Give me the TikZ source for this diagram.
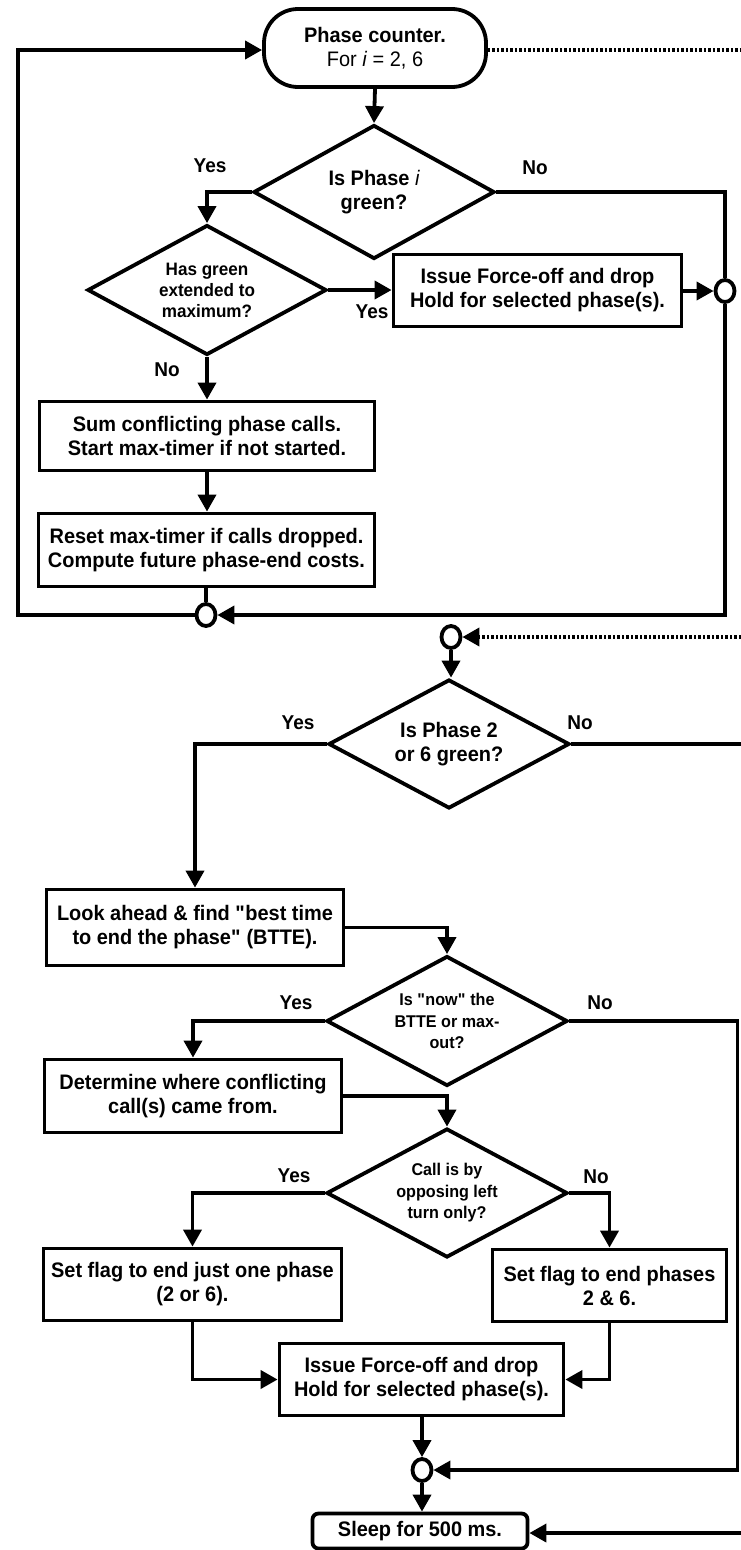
\documentclass[tikz,border=0pt]{standalone}
\usepackage{fontspec}
\setmainfont{Liberation Sans}[FakeStretch=0.95]
\usetikzlibrary{shapes.geometric,arrows.meta}
\begin{document}
\begin{tikzpicture}[x=1pt,y=-1pt,
  line width=3.8pt,
  every node/.style={font=\bfseries\fontsize{21}{24}\selectfont, align=center, inner sep=0pt},
  box/.style={draw, rectangle, line width=3.8pt},
  dec/.style={draw, diamond, aspect=1.85, minimum width=241pt, minimum height=130pt, line width=3.8pt},
  smalltext/.style={font=\bfseries\fontsize{18}{21}\selectfont},
  tinytext/.style={font=\bfseries\fontsize{17}{21.5}\selectfont},
  junction/.style={draw, ellipse, minimum width=19pt, minimum height=22pt, line width=3.8pt, fill=white},
  arr/.style={-{Triangle[length=17pt,width=18pt]}},
  dots/.style={dash pattern=on 2.5pt off 2pt},
  lbl/.style={font=\bfseries\fontsize{20}{22}\selectfont}]
\useasboundingbox (0,0) rectangle (741,1550);

% nodes
\node[box, rounded corners=34pt, minimum width=222pt, minimum height=78pt] (term) at (375,48)
  {Phase counter.\\ {\mdseries For \textit{i} = 2, 6}};
\node[dec, minimum height=134pt] (d1) at (374,192) {Is Phase {\mdseries\itshape i}\\green?};
\node[dec, minimum width=239pt, smalltext] (d2) at (207,290) {Has green\\extended to\\maximum?};
\node[box, minimum width=288pt, minimum height=72pt] (bf1) at (537.5,290.5)
  {Issue Force-off and drop\\Hold for selected phase(s).};
\node[junction] (c1) at (725,291) {};
\node[box, minimum width=335pt, minimum height=69pt] (b1) at (207,436)
  {Sum conflicting phase calls.\\Start max-timer if not started.};
\node[box, minimum width=336pt, minimum height=73pt] (b2) at (206.5,550)
  {Reset max-timer if calls dropped.\\Compute future phase-end costs.};
\node[junction] (c2) at (206,615) {};
\node[junction] (c3) at (451,637) {};
\node[dec, minimum height=129pt] (d3) at (449,744) {Is Phase 2\\or 6 green?};
\node[box, minimum width=297pt, minimum height=76pt] (b3) at (195,927.5)
  {Look ahead \& find \textquotedbl best time\\to end the phase\textquotedbl{} (BTTE).};
\node[dec, tinytext] (d4) at (447,1021) {Is \textquotedbl now\textquotedbl{} the\\BTTE or max-\\out?};
\node[box, minimum width=297pt, minimum height=73pt] (b4) at (193,1096)
  {Determine where conflicting\\call(s) came from.};
\node[dec, tinytext, minimum height=129pt] (d5) at (447,1193) {Call is by\\opposing left\\turn only?};
\node[box, minimum width=298pt, minimum height=72pt] (b5) at (192.5,1284.5)
  {Set flag to end just one phase\\(2 or 6).};
\node[box, minimum width=234pt, minimum height=72pt] (b6) at (609.5,1285.5)
  {Set flag to end phases\\2 \& 6.};
\node[box, minimum width=284pt, minimum height=72pt] (b7) at (421.5,1379.5)
  {Issue Force-off and drop\\Hold for selected phase(s).};
\node[junction] (c4) at (422,1470) {};
\node[box, rounded corners=6pt, minimum width=215pt, minimum height=35pt] (sleep) at (420,1531)
  {Sleep for 500 ms.};

% free ends
\coordinate (eTop) at (741,50);
\coordinate (eMid) at (741,637);
\coordinate (eD3) at (741,744);
\coordinate (eSleep) at (741,1533);

% labels
\node[lbl] (y1) at (210,166) {Yes};
\node[lbl] (n1) at (535,168) {No};
\node[lbl] (y2) at (372,312) {Yes};
\node[lbl] (n2) at (167,370) {No};
\node[lbl] (y3) at (298,723) {Yes};
\node[lbl] (n3) at (580,723) {No};
\node[lbl] (y4) at (296,1003) {Yes};
\node[lbl] (n4) at (600,1003) {No};
\node[lbl] (y5) at (294,1176) {Yes};
\node[lbl] (n5) at (596,1177) {No};

% connectors
\draw[arr] (c2.west) -- (18,615) -- (18,50) -- (term.west |- 0,50);
\draw[dots] (term.east |- 0,50) -- (eTop);
\draw[arr] (term.south) -- (d1.north);
\draw[arr] (d1.west) -| (d2.north);
\draw (d1.east) -| (c1.north);
\draw[arr] (c1.south) |- (c2.east);
\draw[arr] (d2.east) -- (bf1.west |- d2.east);
\draw[arr] (bf1.east |- c1.west) -- (c1.west);
\draw[arr] (d2.south) -- (b1.north -| d2.south);
\draw[arr] (b1.south) -- (b2.north -| b1.south);
\draw (b2.south -| c2.north) -- (c2.north);
\draw[arr, dots] (eMid) -- (c3.east);
\draw[arr] (c3.south) -- (d3.north -| c3.south);
\draw[arr] (d3.west) -| (b3.north);
\draw (d3.east) -- (eD3);
\draw[arr] (b3.east) -| (d4.north);
\draw[arr] (d4.west) -| (b4.north);
\draw[arr] (d4.east) -- (737.5,1021) |- (c4.east);
\draw[arr] (b4.east) -| (d5.north);
\draw[arr] (d5.west) -| (b5.north);
\draw[arr] (d5.east) -| (b6.north);
\draw[arr] (b5.south) |- (b7.west);
\draw[arr] (b6.south) |- (b7.east);
\draw[arr] (b7.south -| c4.north) -- (c4.north);
\draw[arr] (c4.south) -- (sleep.north -| c4.south);
\draw[arr] (eSleep) -- (sleep.east |- eSleep);
\end{tikzpicture}
\end{document}
